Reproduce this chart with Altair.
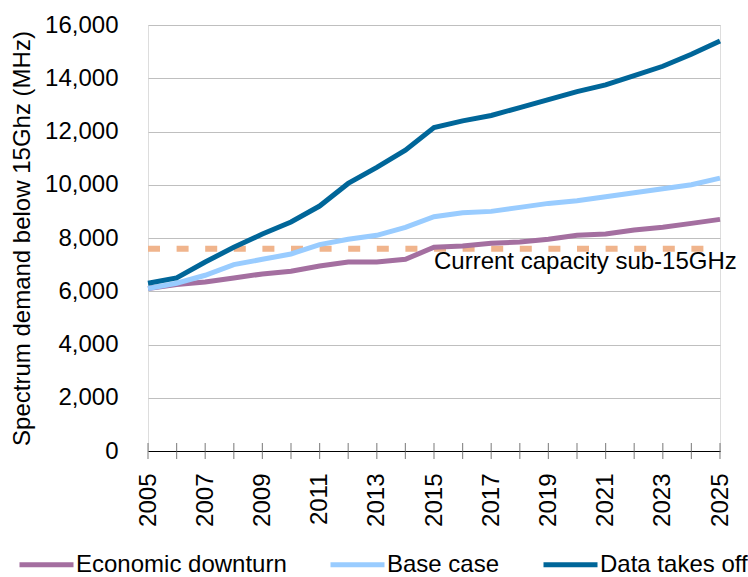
import altair as alt
import pandas as pd

years = list(range(2005, 2026))

economic_downturn = [6100, 6250, 6350, 6500, 6650, 6750, 6950, 7100, 7100, 7200,
                     7650, 7700, 7800, 7850, 7950, 8100, 8150, 8300, 8400, 8550, 8700]
base_case = [6100, 6300, 6600, 7000, 7200, 7400, 7750, 7950, 8100, 8400,
             8800, 8950, 9000, 9150, 9300, 9400, 9550, 9700, 9850, 10000, 10250]
data_takes_off = [6300, 6500, 7100, 7650, 8150, 8600, 9200, 10050, 10650, 11300,
                  12150, 12400, 12600, 12900, 13200, 13500, 13750, 14100, 14450, 14900, 15400]

series_names = ["Economic downturn", "Base case", "Data takes off"]
series_colors = ["#A46FA0", "#99CCFF", "#006699"]
series_widths = [5, 5, 6]

capacity_value = 7600
capacity_label = "Current capacity sub-15GHz"
capacity_label_year = 2015

y_ticks = list(range(0, 16001, 2000))
x_label_years = list(range(2005, 2026, 2))

FONT = "Liberation Sans"
FS = 24

rows = []
for name, vals in zip(series_names, [economic_downturn, base_case, data_takes_off]):
    for yr, v in zip(years, vals):
        rows.append({"year": yr, "value": v, "series": name})
lines_df = pd.DataFrame(rows)

capacity_df = pd.DataFrame({"year": [years[0], years[-1]], "value": [capacity_value] * 2})
label_df = pd.DataFrame({"year": [capacity_label_year], "value": [capacity_value],
                         "text": [capacity_label]})
ticks_df = pd.DataFrame({"year": years, "value": [0] * len(years)})

x_scale = alt.Scale(domain=[2005, 2025], nice=False, zero=False)
y_scale = alt.Scale(domain=[0, 16000], nice=False)

x_axis = alt.Axis(values=x_label_years, format="d", labelAngle=-90, ticks=False,
                  labelPadding=22, grid=False, domainColor="#000000", domainWidth=1,
                  labelFont=FONT, labelFontSize=FS, labelColor="#000000", title=None,
                  labelOverlap=False)
y_axis = alt.Axis(values=y_ticks, format=",.0f", ticks=False, domain=False, labelPadding=30,
                  grid=True, gridColor="#BFBFBF", gridWidth=1.2,
                  labelFont=FONT, labelFontSize=FS, labelColor="#000000",
                  title="Spectrum demand below 15Ghz (MHz)", titleFont=FONT,
                  titleFontSize=FS, titleFontWeight="normal", titleColor="#000000",
                  titleAngle=-90, titleX=-126, titleBaseline="middle")

capacity = alt.Chart(capacity_df).mark_line(
    color="#F0B48C", strokeWidth=6, strokeDash=[12, 16.6], strokeCap="butt"
).encode(
    x=alt.X("year:Q", scale=x_scale, axis=x_axis),
    y=alt.Y("value:Q", scale=y_scale, axis=y_axis),
)

lines = alt.Chart(lines_df).mark_line(strokeJoin="miter").encode(
    x=alt.X("year:Q", scale=x_scale),
    y=alt.Y("value:Q", scale=y_scale),
    color=alt.Color("series:N", scale=alt.Scale(domain=series_names, range=series_colors),
                    legend=alt.Legend(title=None, orient="none", direction="horizontal",
                                      legendX=-131, legendY=510,
                                      symbolType="stroke", symbolSize=2916,
                                      symbolStrokeWidth=5, labelFont=FONT,
                                      labelFontSize=FS, labelColor="#000000",
                                      labelLimit=400, labelOffset=0, columnPadding=33)),
    strokeWidth=alt.StrokeWidth("series:N",
                                scale=alt.Scale(domain=series_names, range=series_widths),
                                legend=None),
    order=alt.Order("year:Q"),
)

label = alt.Chart(label_df).mark_text(
    align="left", baseline="alphabetic", dy=20, font=FONT, fontSize=FS, color="#000000"
).encode(
    x=alt.X("year:Q", scale=x_scale),
    y=alt.Y("value:Q", scale=y_scale),
    text="text:N",
)

year_ticks = alt.Chart(ticks_df).mark_tick(
    orient="vertical", size=16, thickness=1.2, color="#606060"
).encode(
    x=alt.X("year:Q", scale=x_scale),
    y=alt.Y("value:Q", scale=y_scale),
)

chart = alt.layer(capacity, lines, label, year_ticks).properties(
    width=572,
    height=426,
    padding={"left": 148, "top": 25, "right": 28, "bottom": 126},
    autosize=alt.AutoSizeParams(type="none"),
).configure_view(stroke=None).configure(background="#FFFFFF")

chart.save("out.html", embed_options={"renderer": "svg", "actions": False})
